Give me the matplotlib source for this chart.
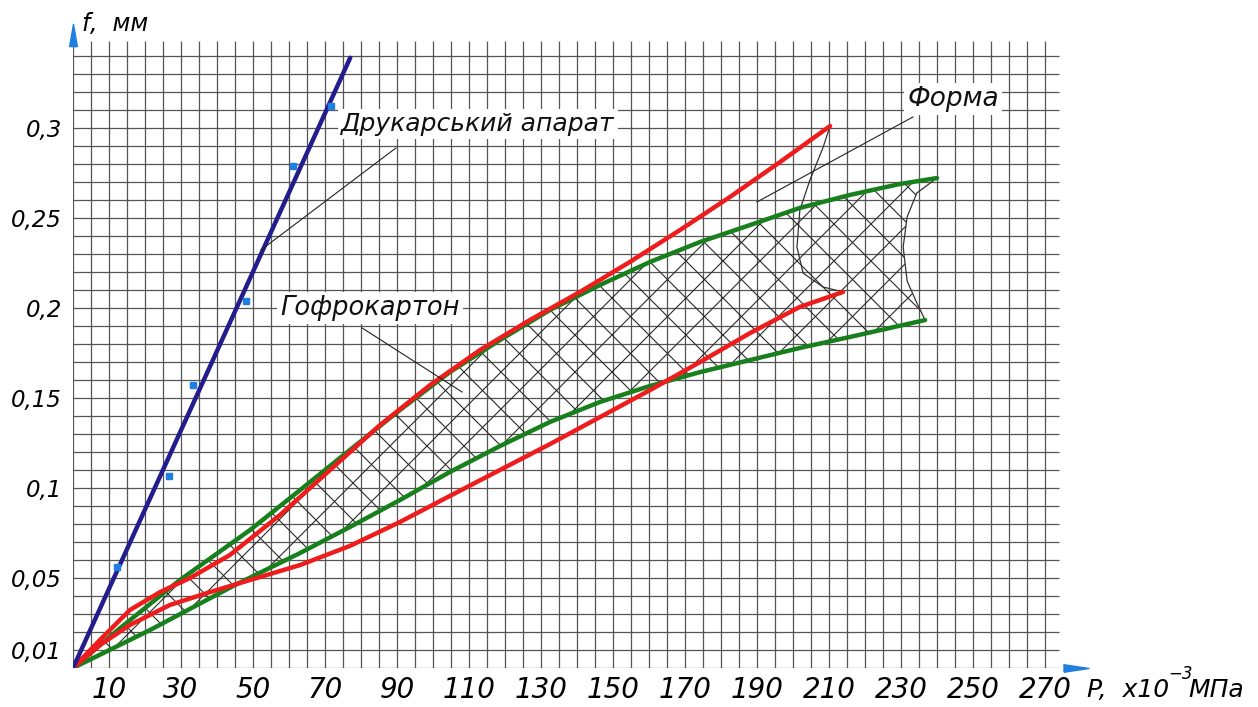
import numpy as np
import matplotlib
matplotlib.use("Agg")
import matplotlib.pyplot as plt
from matplotlib.patches import Polygon
from matplotlib.collections import LineCollection

# ---------------- data (P in x10^-3 MPa, f in mm) ----------------
press_app = [0, 77]
defl_app = [0, 0.339]
press_app_pts = [12.2, 26.7, 33.3, 48.0, 61.1, 71.7]
defl_app_pts = [0.0561, 0.1067, 0.157, 0.204, 0.279, 0.312]

press_g_up = [0, 13.1, 29.7, 49.2, 63.1, 76.9, 90.8, 104.7, 118.6, 132.5, 146.4, 160.3, 174.2, 188.1, 201.9, 215.8, 229.7, 240]
defl_g_up = [0, 0.0222, 0.0489, 0.0767, 0.0989, 0.1211, 0.1433, 0.1644, 0.1822, 0.1989, 0.2128, 0.2256, 0.2367, 0.2461, 0.2556, 0.2628, 0.2689, 0.2722]

press_g_lo = [0, 21.4, 45, 63.1, 76.9, 90.8, 104.7, 118.6, 132.5, 146.4, 160.3, 174.2, 188.1, 201.9, 215.8, 236.7]
defl_g_lo = [0, 0.0211, 0.0461, 0.0639, 0.0783, 0.0933, 0.1089, 0.1233, 0.1367, 0.1478, 0.1567, 0.1644, 0.1711, 0.1778, 0.1839, 0.1933]

press_r_up = [0, 7.5, 15.8, 24.2, 32.5, 43.6, 57.5, 71.4, 85.3, 99.2, 113.1, 126.9, 140.8, 154.7, 168.6, 182.5, 196.4, 210.3]
defl_r_up = [0, 0.0156, 0.0322, 0.0422, 0.05, 0.0628, 0.085, 0.11, 0.135, 0.1572, 0.1767, 0.1933, 0.2089, 0.2256, 0.2433, 0.2617, 0.2811, 0.3011]

press_r_lo = [0, 7.5, 15.8, 26.9, 38.1, 49.2, 63.1, 76.9, 90.8, 104.7, 118.6, 132.5, 146.4, 160.3, 174.2, 188.1, 201.9, 213.9]
defl_r_lo = [0, 0.0128, 0.0239, 0.035, 0.0422, 0.0489, 0.0572, 0.0678, 0.0811, 0.0956, 0.11, 0.1244, 0.1394, 0.1544, 0.17, 0.1861, 0.2006, 0.2089]

# right-hand boundary of the "Форма" zone (red curves)
press_form_edge = [210.3, 208.3, 204.7, 201.9, 201.1, 202.8, 208.3, 213.9]
defl_form_edge = [0.3011, 0.2889, 0.2711, 0.2544, 0.2339, 0.2194, 0.2117, 0.2089]

# right-hand boundary of the "Гофрокартон" zone (green curves)
press_corr_edge = [240, 234.4, 231.7, 230.6, 231.7, 234.4, 236.7]
defl_corr_edge = [0.2722, 0.2639, 0.2506, 0.2339, 0.2150, 0.2028, 0.1933]

x_ticks = [10, 30, 50, 70, 90, 110, 130, 150, 170, 190, 210, 230, 250, 270]
y_ticks = [0.01, 0.05, 0.1, 0.15, 0.2, 0.25, 0.3]
y_tick_labels = ["0,01", "0,05", "0,1", "0,15", "0,2", "0,25", "0,3"]

label_app = "Друкарський апарат"
label_form = "Форма"
label_corr = "Гофрокартон"

# ---------------- styling ----------------
FONT = ["DejaVu Sans"]
RED = "#ee1c1c"
GREEN = "#17801c"
NAVY = "#231c8c"
LBLUE = "#1e7fe0"
GRID = "#555555"

fig = plt.figure(figsize=(12.58, 7.07), dpi=100)
XMAX, YMAX = 285, 0.36
ax = fig.add_axes([73 / 1258, 39 / 707, XMAX * 3.6 / 1258, YMAX * 1800 / 707])
ax.set_xlim(0, XMAX)
ax.set_ylim(0, YMAX)
for s in ax.spines.values():
    s.set_visible(False)

# grid (graph paper)
vx = np.arange(0, 271, 5)
ax.vlines(vx, 0, 0.3485, colors=GRID, lw=0.9, zorder=1)
hy = np.arange(0, 0.345, 0.01)
ax.hlines(hy, 0, 274, colors=GRID, lw=0.9, zorder=1)

# hatched zone between green curves
poly_pts = (list(zip(press_g_up, defl_g_up)) + list(zip(press_corr_edge, defl_corr_edge))
            + list(zip(press_g_lo[::-1], defl_g_lo[::-1])))
clip = Polygon(poly_pts, closed=True, facecolor="none", edgecolor="none")
ax.add_patch(clip)
SX, SY = 3.6, 1800.0
step = 37.0
segs = []
xs = np.array([0, XMAX])
for c in np.arange(-1200, 1500, step):
    segs.append(np.column_stack([xs, (xs * SX - c) / SY]))
    segs.append(np.column_stack([xs, (-xs * SX + c) / SY]))
lc = LineCollection(segs, colors="#2a2a2a", lw=0.8, zorder=2)
ax.add_collection(lc)
lc.set_clip_path(clip)

# zone edges (thin)
ax.plot(press_form_edge, defl_form_edge, color="#333333", lw=0.9, zorder=3)
ax.plot(press_corr_edge, defl_corr_edge, color="#333333", lw=0.9, zorder=3)

# curves
ax.plot(press_g_up, defl_g_up, color=GREEN, lw=3.2, zorder=4, solid_capstyle="round")
ax.plot(press_g_lo, defl_g_lo, color=GREEN, lw=3.2, zorder=4, solid_capstyle="round")
ax.plot(press_r_up, defl_r_up, color=RED, lw=3.2, zorder=5, solid_capstyle="round")
ax.plot(press_r_lo, defl_r_lo, color=RED, lw=3.2, zorder=5, solid_capstyle="round")
ax.plot(press_app, defl_app, color=NAVY, lw=3.2, zorder=5, solid_capstyle="round")
ax.plot(press_app_pts, defl_app_pts, ls="none", marker="s", ms=4, color=LBLUE, zorder=6)

# leader lines and labels
ax.plot([89.7, 52.2], [0.2889, 0.2322], color="#222222", lw=0.8, zorder=6)
ax.plot([80.3, 108.1], [0.1889, 0.1533], color="#222222", lw=0.8, zorder=6)
ax.plot([233.3, 190.0], [0.3061, 0.2589], color="#222222", lw=0.8, zorder=6)

tkw = dict(fontstyle="italic", family=FONT, color="#111111", zorder=7,
           bbox=dict(facecolor="white", edgecolor="none", pad=2))
ax.text(74.5, 0.3022, label_app, fontsize=18, ha="left", va="center", **tkw)
ax.text(244.5, 0.3161, label_form, fontsize=19, ha="center", va="center", **tkw)
ax.text(82.5, 0.2000, label_corr, fontsize=18.5, ha="center", va="center", **tkw)

# ticks
ax.set_xticks(x_ticks)
ax.set_xticklabels([str(v) for v in x_ticks], fontsize=20, fontstyle="italic", family=FONT)
ax.set_yticks(y_ticks)
ax.set_yticklabels(y_tick_labels, fontsize=16.5, fontstyle="italic", family=FONT)
ax.tick_params(axis="x", length=0, pad=6)
ax.tick_params(axis="y", length=0, pad=8)

# axis arrows
arrow_up = [(-0.35, -1), (0.35, -1), (0, 1), (-0.35, -1)]
arrow_right = [(-1, -0.3), (-1, 0.3), (1, 0), (-1, -0.3)]
ax.plot([0], [0.3515], marker=arrow_up, ms=16, color=LBLUE, ls="none", clip_on=False, zorder=8)
ax.plot([278.5], [0.0], marker=arrow_right, ms=18, color=LBLUE, ls="none", clip_on=False, zorder=8)

# axis titles
fig.text(82 / 1258, 1 - 24 / 707, "f,  мм", fontsize=17, fontstyle="italic", family=FONT,
         ha="left", va="center")
fig.text(1087 / 1258, 1 - 690 / 707, "P,  x10", fontsize=18, fontstyle="italic", family=FONT,
         ha="left", va="center")
fig.text(1168 / 1258, 1 - 674 / 707, "−3", fontsize=12, fontstyle="italic", family=FONT,
         ha="left", va="center")
fig.text(1188 / 1258, 1 - 690 / 707, "МПа", fontsize=18, fontstyle="italic", family=FONT,
         ha="left", va="center")

fig.savefig("out.png", dpi=100, facecolor="white")
